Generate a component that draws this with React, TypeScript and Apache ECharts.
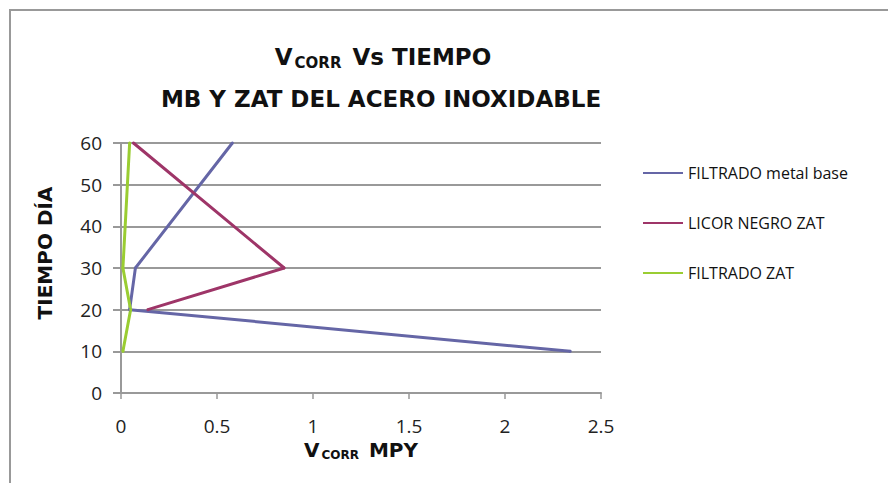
import React, { useEffect, useRef } from "react";
import * as echarts from "echarts";

const seriesNames = ["FILTRADO metal base", "LICOR NEGRO ZAT", "FILTRADO ZAT"];
const baseTimes = [10, 20, 30, 60];
const baseVcorr = [2.34, 0.045, 0.075, 0.58];
const licorTimes = [20, 30, 60];
const licorVcorr = [0.14, 0.85, 0.065];
const zatTimes = [10, 20, 30, 60];
const zatVcorr = [0.01, 0.05, 0.01, 0.045];
const colors = ["#6566A6", "#9E3568", "#9ACD32"];

const pairs = (xs: number[], ys: number[]) => xs.map((x, i) => [x, ys[i]]);

export default function App() {
  const ref = useRef<HTMLDivElement>(null);
  useEffect(() => {
    if (!ref.current) return;
    const chart = echarts.init(ref.current, undefined, { renderer: "svg" });
    const tickFont = { fontFamily: "Open Sans", fontSize: 19, color: "#222" };
    const boldFont = "DejaVu Sans";
    chart.setOption({
      animation: false,
      backgroundColor: "#fff",
      title: [
        {
          text: "{v|V}{s|CORR}{v| Vs TIEMPO}",
          left: 378,
          top: 39,
          textAlign: "center",
          textStyle: {
            rich: {
              v: { fontFamily: boldFont, fontWeight: "bold", fontSize: 23, color: "#111" },
              s: { fontFamily: boldFont, fontWeight: "bold", fontSize: 15, color: "#111", padding: [11, 3, 0, 2] },
            },
          },
        },
        {
          text: "MB Y ZAT DEL ACERO INOXIDABLE",
          left: 376,
          top: 82,
          textAlign: "center",
          textStyle: { fontFamily: boldFont, fontWeight: "bold", fontSize: 23, color: "#111" },
        },
      ],
      graphic: [
        {
          type: "rect",
          shape: { x: 10, y: 10, width: 1000, height: 1000 },
          style: { fill: "none", stroke: "#999", lineWidth: 2 },
          silent: true,
        },
      ],
      legend: {
        orient: "vertical",
        left: 643,
        top: 165,
        padding: 0,
        itemGap: 34,
        itemWidth: 40,
        itemHeight: 14,
        icon: "path://M0,6 L40,6 L40,8 L0,8 Z",
        textStyle: { fontFamily: "Open Sans", fontSize: 16, color: "#111" },
        data: seriesNames,
      },
      grid: { left: 121, right: 287, top: 143, bottom: 90, containLabel: false },
      xAxis: {
        type: "value",
        min: 0,
        max: 2.5,
        interval: 0.5,
        name: "{v|V}{s|CORR}{v| MPY}",
        nameLocation: "middle",
        nameGap: 38,
        nameTextStyle: {
          rich: {
            v: { fontFamily: boldFont, fontWeight: "bold", fontSize: 20, color: "#111" },
            s: { fontFamily: boldFont, fontWeight: "bold", fontSize: 12, color: "#111", padding: [10, 3, 0, 2] },
          },
        },
        axisLine: { show: true, lineStyle: { color: "#999", width: 2 } },
        axisTick: { show: true, length: 6, lineStyle: { color: "#999", width: 1.5 } },
        axisLabel: { ...tickFont, margin: 23 },
        splitLine: { show: false },
      },
      yAxis: {
        type: "value",
        min: 0,
        max: 60,
        interval: 10,
        name: "TIEMPO DÍA",
        nameLocation: "middle",
        nameGap: 66,
        nameTextStyle: {
          fontFamily: boldFont,
          fontWeight: "bold",
          fontSize: 20,
          color: "#111",
          padding: [0, 0, 0, 30],
        },
        axisLine: { show: true, lineStyle: { color: "#999", width: 2 } },
        axisTick: { show: true, length: 8, lineStyle: { color: "#999", width: 2 } },
        axisLabel: { ...tickFont, margin: 19 },
        splitLine: { show: true, lineStyle: { color: "#999", width: 2 } },
      },
      series: [
        { name: seriesNames[0], data: pairs(baseVcorr, baseTimes) },
        { name: seriesNames[1], data: pairs(licorVcorr, licorTimes) },
        { name: seriesNames[2], data: pairs(zatVcorr, zatTimes) },
      ].map((s, i) => ({
        ...s,
        type: "line",
        symbol: "circle",
        symbolSize: 3,
        itemStyle: { color: colors[i] },
        lineStyle: { color: colors[i], width: 3 },
      })),
    });
    return () => chart.dispose();
  }, []);
  return (
    <div
      ref={ref}
      style={{ position: "fixed", left: 0, top: 0, width: 888, height: 483 }}
    />
  );
}
